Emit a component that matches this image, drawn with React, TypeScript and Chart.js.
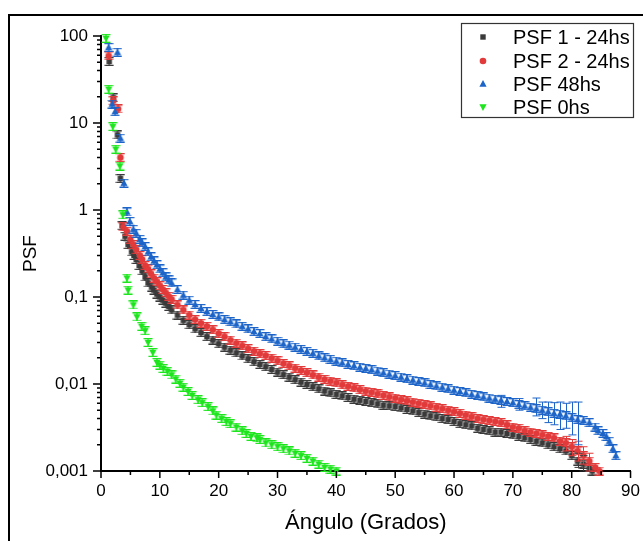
import React, { useEffect, useRef } from "react";
import { Chart, registerables } from "chart.js";

Chart.register(...registerables);

const FONT = '"Liberation Sans", Arial, Helvetica, sans-serif';

const seriesLabels = ["PSF 1 - 24hs", "PSF 2 - 24hs", "PSF 48hs", "PSF 0hs"];
const seriesColors = ["#3a3a3a", "#e23a3a", "#1c64c8", "#1de51d"];
const seriesShapes = ["square", "circle", "triangle", "triangleDown"];

// [angle (deg), PSF]
const psf1_24 = [
  [1.4, 51], [2.1, 19.5], [2.8, 7.3], [3.3, 2.3], [3.6, 0.66], [4.1, 0.5], [4.6, 0.4], [5.2, 0.33], [5.6, 0.3],
  [6, 0.27], [6.5, 0.23], [7, 0.2], [7.5, 0.17], [8, 0.145], [8.6, 0.13], [9, 0.12], [9.5, 0.108], [10, 0.1],
  [10.5, 0.092], [11, 0.085], [11.5, 0.078], [12, 0.071], [13, 0.062], [14, 0.054], [15, 0.048], [16, 0.043],
  [17, 0.039], [18, 0.035], [19, 0.032], [20, 0.029], [21, 0.0265], [22, 0.0245], [23, 0.0228], [24, 0.021],
  [25, 0.0195], [26, 0.018], [27, 0.0168], [28, 0.0158], [29, 0.0147], [30, 0.0137], [31, 0.0128], [32, 0.012],
  [33, 0.0112], [34, 0.0105], [35, 0.0099], [36, 0.0093], [37, 0.0088], [38, 0.0083], [39, 0.0079], [40, 0.0076],
  [41, 0.0073], [42, 0.007], [43, 0.0067], [44, 0.0065], [45, 0.0063], [46, 0.0061], [47, 0.0059], [48, 0.0057],
  [49, 0.0056], [50, 0.0055], [51, 0.0053], [52, 0.0051], [53, 0.0049], [54, 0.0047], [55, 0.0045], [56, 0.0043],
  [57, 0.0042], [58, 0.004], [59, 0.0039], [60, 0.0037], [61, 0.0035], [62, 0.0034], [63, 0.0033], [64, 0.0031],
  [65, 0.003], [66, 0.0029], [67, 0.0028], [68, 0.0028], [69, 0.0027], [70, 0.0026], [71, 0.0025], [72, 0.0024],
  [73, 0.0023], [74, 0.0022], [75, 0.0021], [76, 0.002], [77, 0.0019], [78, 0.0018], [79, 0.0017], [80, 0.0015],
  [81, 0.0013], [82, 0.0012], [83, 0.0011], [83.5, 0.001],
];

const psf2_24 = [
  [1.3, 59], [2.1, 18], [2.9, 14.5], [3.3, 4.0], [3.8, 0.64], [4.4, 0.57], [5, 0.46], [5.5, 0.4], [6, 0.35],
  [6.6, 0.3], [7, 0.27], [7.5, 0.23], [8, 0.21], [8.5, 0.185], [9, 0.165], [9.5, 0.15], [10, 0.135], [10.5, 0.122],
  [11, 0.112], [11.5, 0.102], [12, 0.094], [13, 0.081], [14, 0.071], [15, 0.062], [16, 0.055], [17, 0.05],
  [18, 0.046], [19, 0.042], [20, 0.038], [21, 0.035], [22, 0.032], [23, 0.0295], [24, 0.0275], [25, 0.0255],
  [26, 0.0238], [27, 0.0223], [28, 0.0212], [29, 0.0198], [30, 0.0185], [31, 0.0172], [32, 0.0162], [33, 0.0152],
  [34, 0.0143], [35, 0.0135], [36, 0.0127], [37, 0.012], [38, 0.0113], [39, 0.0108], [40, 0.0103], [41, 0.0098],
  [42, 0.0094], [43, 0.009], [44, 0.0086], [45, 0.0083], [46, 0.008], [47, 0.0077], [48, 0.0074], [49, 0.0071],
  [50, 0.0069], [51, 0.0066], [52, 0.0064], [53, 0.0062], [54, 0.006], [55, 0.0058], [56, 0.0056], [57, 0.0054],
  [58, 0.0052], [59, 0.005], [60, 0.0048], [61, 0.0046], [62, 0.0044], [63, 0.0042], [64, 0.004], [65, 0.0039],
  [66, 0.0038], [67, 0.0037], [68, 0.0036], [69, 0.0034], [70, 0.0032], [71, 0.0031], [72, 0.0029], [73, 0.0028],
  [74, 0.0027], [75, 0.0026], [76, 0.0025], [77, 0.0024], [78, 0.0022], [79, 0.0021], [80, 0.0019], [81, 0.0017],
  [82, 0.0015], [83, 0.0013], [84, 0.0011], [84.7, 0.001],
];

const psf48 = [
  [1.3, 74], [1.9, 16.5], [2.4, 13.5], [2.8, 65], [3.3, 6.7], [3.9, 2.03], [4.4, 0.95], [4.9, 0.74], [5.5, 0.6],
  [6, 0.54], [6.6, 0.46], [7, 0.42], [7.5, 0.38], [8, 0.33], [8.5, 0.29], [9, 0.26], [9.5, 0.235], [10, 0.21],
  [10.5, 0.19], [11, 0.17], [11.5, 0.157], [12, 0.145], [13, 0.122], [14, 0.105], [15, 0.092], [16, 0.082],
  [17, 0.074], [18, 0.068], [19, 0.063], [20, 0.059], [21, 0.055], [22, 0.052], [23, 0.049], [24, 0.046],
  [25, 0.043], [26, 0.04], [27, 0.038], [28, 0.035], [29, 0.033], [30, 0.031], [31, 0.029], [32, 0.028],
  [33, 0.0265], [34, 0.025], [35, 0.0237], [36, 0.0225], [37, 0.021], [38, 0.02], [39, 0.0192], [40, 0.0183],
  [41, 0.0175], [42, 0.0168], [43, 0.0162], [44, 0.0156], [45, 0.0151], [46, 0.0146], [47, 0.0141], [48, 0.0135],
  [49, 0.013], [50, 0.0125], [51, 0.012], [52, 0.0115], [53, 0.0111], [54, 0.0107], [55, 0.0103], [56, 0.0099],
  [57, 0.0095], [58, 0.0092], [59, 0.0088], [60, 0.0085], [61, 0.0082], [62, 0.0079], [63, 0.0076], [64, 0.0074],
  [65, 0.0071], [66, 0.0069], [67, 0.0067], [68, 0.0065], [69, 0.0063], [70, 0.0061], [71, 0.0058], [72, 0.0056],
  [73, 0.0054], [74, 0.0052], [75, 0.005], [76, 0.0048], [77, 0.0046], [78, 0.0045], [79, 0.0043], [80, 0.0041],
  [81, 0.0039], [82, 0.0038], [83, 0.0036], [84, 0.0032], [84.5, 0.0029], [85.3, 0.0027], [85.9, 0.0025],
  [86.4, 0.0022], [87, 0.0018], [87.5, 0.0015],
];

const psf0 = [
  [0.85, 94], [1.3, 24.4], [2.0, 9.1], [2.5, 5.0], [3.2, 3.2], [3.7, 0.88], [4.4, 0.165], [4.6, 0.12], [5.5, 0.081],
  [6.1, 0.059], [6.9, 0.046], [7.5, 0.041], [8, 0.03], [8.8, 0.023], [9.5, 0.0177], [10, 0.0165], [10.6, 0.0151],
  [11.3, 0.014], [12, 0.0127], [12.7, 0.0114], [13.4, 0.0102], [14, 0.0092], [14.8, 0.0082], [15.5, 0.0074],
  [16.5, 0.0066], [17.2, 0.0061], [18.2, 0.0055], [19, 0.0049], [19.6, 0.0044], [20.5, 0.004], [21.3, 0.0037],
  [22, 0.0035], [23, 0.0032], [24, 0.0029], [24.7, 0.0027], [25.5, 0.0025], [26.5, 0.0024], [27, 0.0023],
  [28, 0.0021], [29, 0.002], [30, 0.0019], [31, 0.0018], [32, 0.0017], [33, 0.0016], [34, 0.0015], [35, 0.0014],
  [36, 0.0013], [37, 0.0012], [38, 0.0011], [39, 0.00105], [40, 0.001],
];

// error bars: [angle, low, high]
const psf1Err = [[81, 0.0011, 0.0016], [82, 0.001, 0.0015]];
const psf2Err = [[79, 0.0017, 0.0025], [80, 0.0015, 0.0023], [81, 0.0013, 0.0022], [82, 0.0012, 0.0019], [83, 0.001, 0.0016]];
const psf48Err = [
  [68, 0.0054, 0.0074], [71, 0.005, 0.0068], [74, 0.0043, 0.0069], [75, 0.004, 0.0062], [76, 0.0036, 0.0062],
  [77, 0.0034, 0.0061], [78, 0.003, 0.0062], [79, 0.0031, 0.006], [80, 0.0026, 0.0062], [81, 0.002, 0.0062],
];
const psf0Err: number[][] = [];

const xMin = 0;
const xMax = 90;
const xStep = 10;
const yTickValues = [0.001, 0.01, 0.1, 1, 10, 100];
const yTickLabels = ["0,001", "0,01", "0,1", "1", "10", "100"];
const xTitle = "Ángulo (Grados)";
const yTitle = "PSF";

function drawShape(ctx: CanvasRenderingContext2D, shape: string, cx: number, cy: number, s: number, color: string) {
  ctx.fillStyle = color;
  ctx.beginPath();
  if (shape === "square") {
    ctx.rect(cx - s * 0.45, cy - s * 0.45, s * 0.9, s * 0.9);
  } else if (shape === "circle") {
    ctx.arc(cx, cy, s * 0.55, 0, Math.PI * 2);
  } else if (shape === "triangle") {
    ctx.moveTo(cx, cy - s * 0.65);
    ctx.lineTo(cx + s * 0.6, cy + s * 0.45);
    ctx.lineTo(cx - s * 0.6, cy + s * 0.45);
    ctx.closePath();
  } else {
    ctx.moveTo(cx, cy + s * 0.65);
    ctx.lineTo(cx + s * 0.6, cy - s * 0.45);
    ctx.lineTo(cx - s * 0.6, cy - s * 0.45);
    ctx.closePath();
  }
  ctx.fill();
}

function makePointImage(shape: string, color: string) {
  const c = document.createElement("canvas");
  c.width = 10;
  c.height = 9;
  const g = c.getContext("2d")!;
  g.strokeStyle = color;
  g.lineWidth = 1.3;
  g.beginPath();
  g.moveTo(5, 0.7);
  g.lineTo(5, 8.3);
  g.moveTo(0.5, 0.7);
  g.lineTo(9.5, 0.7);
  g.moveTo(0.5, 8.3);
  g.lineTo(9.5, 8.3);
  g.stroke();
  drawShape(g, shape, 5, 4.5, 6, color);
  return c;
}

const framePlugin = {
  id: "frame",
  beforeDraw(chart: any) {
    const ctx = chart.ctx;
    ctx.save();
    ctx.fillStyle = "#ffffff";
    ctx.fillRect(0, 0, chart.width, chart.height);
    ctx.strokeStyle = "#000";
    ctx.lineWidth = 2;
    ctx.strokeRect(9, 15, chart.width + 50, chart.height + 50);
    ctx.restore();
  },
};

const errorSets = [psf1Err, psf2Err, psf48Err, psf0Err];

const errorPlugin = {
  id: "errbars",
  afterDatasetsDraw(chart: any) {
    const ctx = chart.ctx;
    const xs = chart.scales.x;
    const ys = chart.scales.y;
    ctx.save();
    ctx.lineWidth = 1;
    errorSets.forEach((set, si) => {
      ctx.strokeStyle = seriesColors[si];
      set.forEach(([a, lo, hi]) => {
        const px = Math.round(xs.getPixelForValue(a)) + 0.5;
        const y1 = ys.getPixelForValue(lo);
        const y2 = ys.getPixelForValue(hi);
        ctx.beginPath();
        ctx.moveTo(px, y1);
        ctx.lineTo(px, y2);
        ctx.moveTo(px - 4, y1);
        ctx.lineTo(px + 4, y1);
        ctx.moveTo(px - 4, y2);
        ctx.lineTo(px + 4, y2);
        ctx.stroke();
      });
    });
    ctx.restore();
  },
};

const tickPlugin = {
  id: "ticksdraw",
  afterDraw(chart: any) {
    const ctx = chart.ctx;
    const xs = chart.scales.x;
    const ys = chart.scales.y;
    const { left, bottom } = chart.chartArea;
    ctx.save();
    ctx.strokeStyle = "#000";
    ctx.lineWidth = 1.5;
    ctx.beginPath();
    for (let i = 0; i <= (xMax - xMin) / 5; i++) {
      const v = xMin + i * 5;
      const px = xs.getPixelForValue(v);
      const len = v % xStep === 0 ? 7 : 4;
      ctx.moveTo(px, bottom);
      ctx.lineTo(px, bottom + len);
    }
    for (let d = 0; d < yTickValues.length; d++) {
      for (let m = 1; m <= 9; m++) {
        const v = yTickValues[d] * m;
        if (v > yTickValues[yTickValues.length - 1] * 1.0001) break;
        const py = ys.getPixelForValue(v);
        const len = m === 1 ? 8 : 4;
        ctx.moveTo(left - len, py);
        ctx.lineTo(left, py);
      }
    }
    ctx.stroke();
    ctx.restore();
  },
};

const legendPlugin = {
  id: "legendbox",
  afterDraw(chart: any) {
    const ctx = chart.ctx;
    ctx.save();
    ctx.strokeStyle = "#333";
    ctx.lineWidth = 1.2;
    ctx.strokeRect(461.5, 23.5, 172, 94);
    ctx.font = `20px ${FONT}`;
    ctx.textBaseline = "middle";
    ctx.textAlign = "left";
    const rows = [37, 61, 84, 107];
    seriesLabels.forEach((lab, i) => {
      drawShape(ctx, seriesShapes[i], 483, rows[i], 6, seriesColors[i]);
      ctx.fillStyle = "#000";
      ctx.fillText(lab, 513, rows[i] + 1);
    });
    ctx.restore();
  },
};

export default function App() {
  const ref = useRef<HTMLCanvasElement | null>(null);

  useEffect(() => {
    const canvas = ref.current;
    if (!canvas) return;
    const sets = [psf1_24, psf2_24, psf48, psf0];
    const datasets = sets.map((s, i) => ({
      label: seriesLabels[i],
      data: s.map(([x, y]) => ({ x, y })),
      pointStyle: makePointImage(seriesShapes[i], seriesColors[i]),
      pointRadius: 4,
      backgroundColor: seriesColors[i],
      borderColor: seriesColors[i],
      showLine: false,
      clip: false as any,
      order: 4 - i,
    }));

    const chart = new Chart(canvas, {
      type: "scatter",
      data: { datasets },
      options: {
        animation: false,
        responsive: false,
        devicePixelRatio: 1,
        layout: { padding: { left: 0, top: 36, right: 12, bottom: 0 } },
        plugins: { legend: { display: false }, tooltip: { enabled: false } },
        scales: {
          x: {
            type: "linear",
            min: xMin,
            max: xMax,
            afterFit: (s: any) => {
              s.height = 70;
            },
            ticks: {
              stepSize: xStep,
              color: "#000",
              padding: 3,
              font: { family: FONT, size: 17 },
            },
            grid: { display: true, color: "rgba(0,0,0,0)", drawOnChartArea: false, drawTicks: true, tickLength: 7 },
            border: { display: true, color: "#000", width: 2 },
            title: {
              display: true,
              text: xTitle,
              color: "#000",
              font: { family: FONT, size: 22 },
              padding: { top: 0, bottom: 5 },
            },
          },
          y: {
            type: "logarithmic",
            min: yTickValues[0],
            max: yTickValues[yTickValues.length - 1],
            afterBuildTicks: (s: any) => {
              s.ticks = yTickValues.map((v) => ({ value: v }));
            },
            afterFit: (s: any) => {
              s.width = 101;
            },
            ticks: {
              autoSkip: false,
              color: "#000",
              padding: 5,
              font: { family: FONT, size: 17 },
              callback: (_v: any, idx: number) => yTickLabels[idx],
            },
            grid: { display: true, color: "rgba(0,0,0,0)", drawOnChartArea: false, drawTicks: true, tickLength: 8 },
            border: { display: true, color: "#000", width: 2 },
            title: {
              display: true,
              text: yTitle,
              color: "#000",
              font: { family: FONT, size: 19 },
              padding: { top: 19, bottom: 0 },
            },
          },
        },
      },
      plugins: [framePlugin, errorPlugin, tickPlugin, legendPlugin],
    } as any);

    return () => chart.destroy();
  }, []);

  return (
    <canvas
      ref={ref}
      width={643}
      height={541}
      style={{ position: "fixed", left: 0, top: 0, display: "block", width: 643, height: 541 }}
    />
  );
}
